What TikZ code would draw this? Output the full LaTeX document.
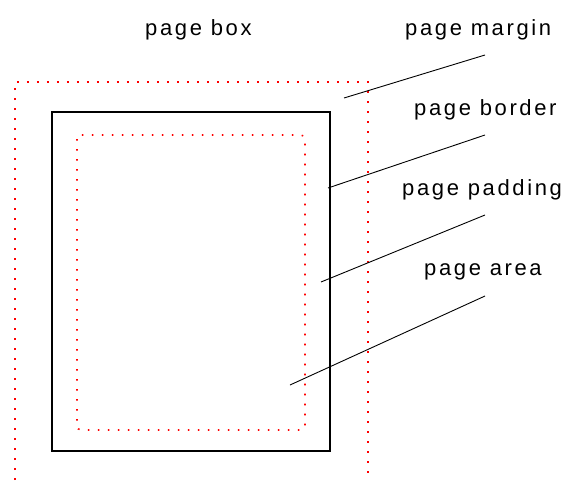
\documentclass[tikz,border=0pt]{standalone}
\usepackage{fontspec}
\setmainfont{Liberation Sans}[LetterSpace=12]
\tikzset{
  dotline/.style={red, line width=1.6pt, dash pattern=on 1.6pt off 8.4pt},
  leader/.style={black, line width=0.9pt},
  lbl/.style={anchor=base west, inner sep=0pt, font=\fontsize{22}{24}\selectfont}
}
\begin{document}
\begin{tikzpicture}[x=1pt, y=-1pt]
\useasboundingbox (0,0) rectangle (571,480);
\draw[dotline] (15,480) -- (15,82) -- (368,82) -- (368,480);
\draw[black, line width=1.5pt] (52,112) rectangle (330,451);
\draw[dotline, rounded corners=4pt] (77,135) rectangle (305,430);
\node[lbl] (box) at (145,35) {page box};
\node[lbl] (margin) at (405,35) {page margin};
\node[lbl] (border) at (414,115) {page border};
\node[lbl] (padding) at (402,195) {page padding};
\node[lbl] (area) at (424,275) {page area};
\coordinate (m1) at (344,98);
\coordinate (m2) at (485,55);
\coordinate (b1) at (328,188);
\coordinate (b2) at (485,135);
\coordinate (p1) at (321,282);
\coordinate (p2) at (485,215);
\coordinate (a1) at (290,385);
\coordinate (a2) at (485,296);
\draw[leader] (m1) -- (m2);
\draw[leader] (b1) -- (b2);
\draw[leader] (p1) -- (p2);
\draw[leader] (a1) -- (a2);
\end{tikzpicture}
\end{document}
